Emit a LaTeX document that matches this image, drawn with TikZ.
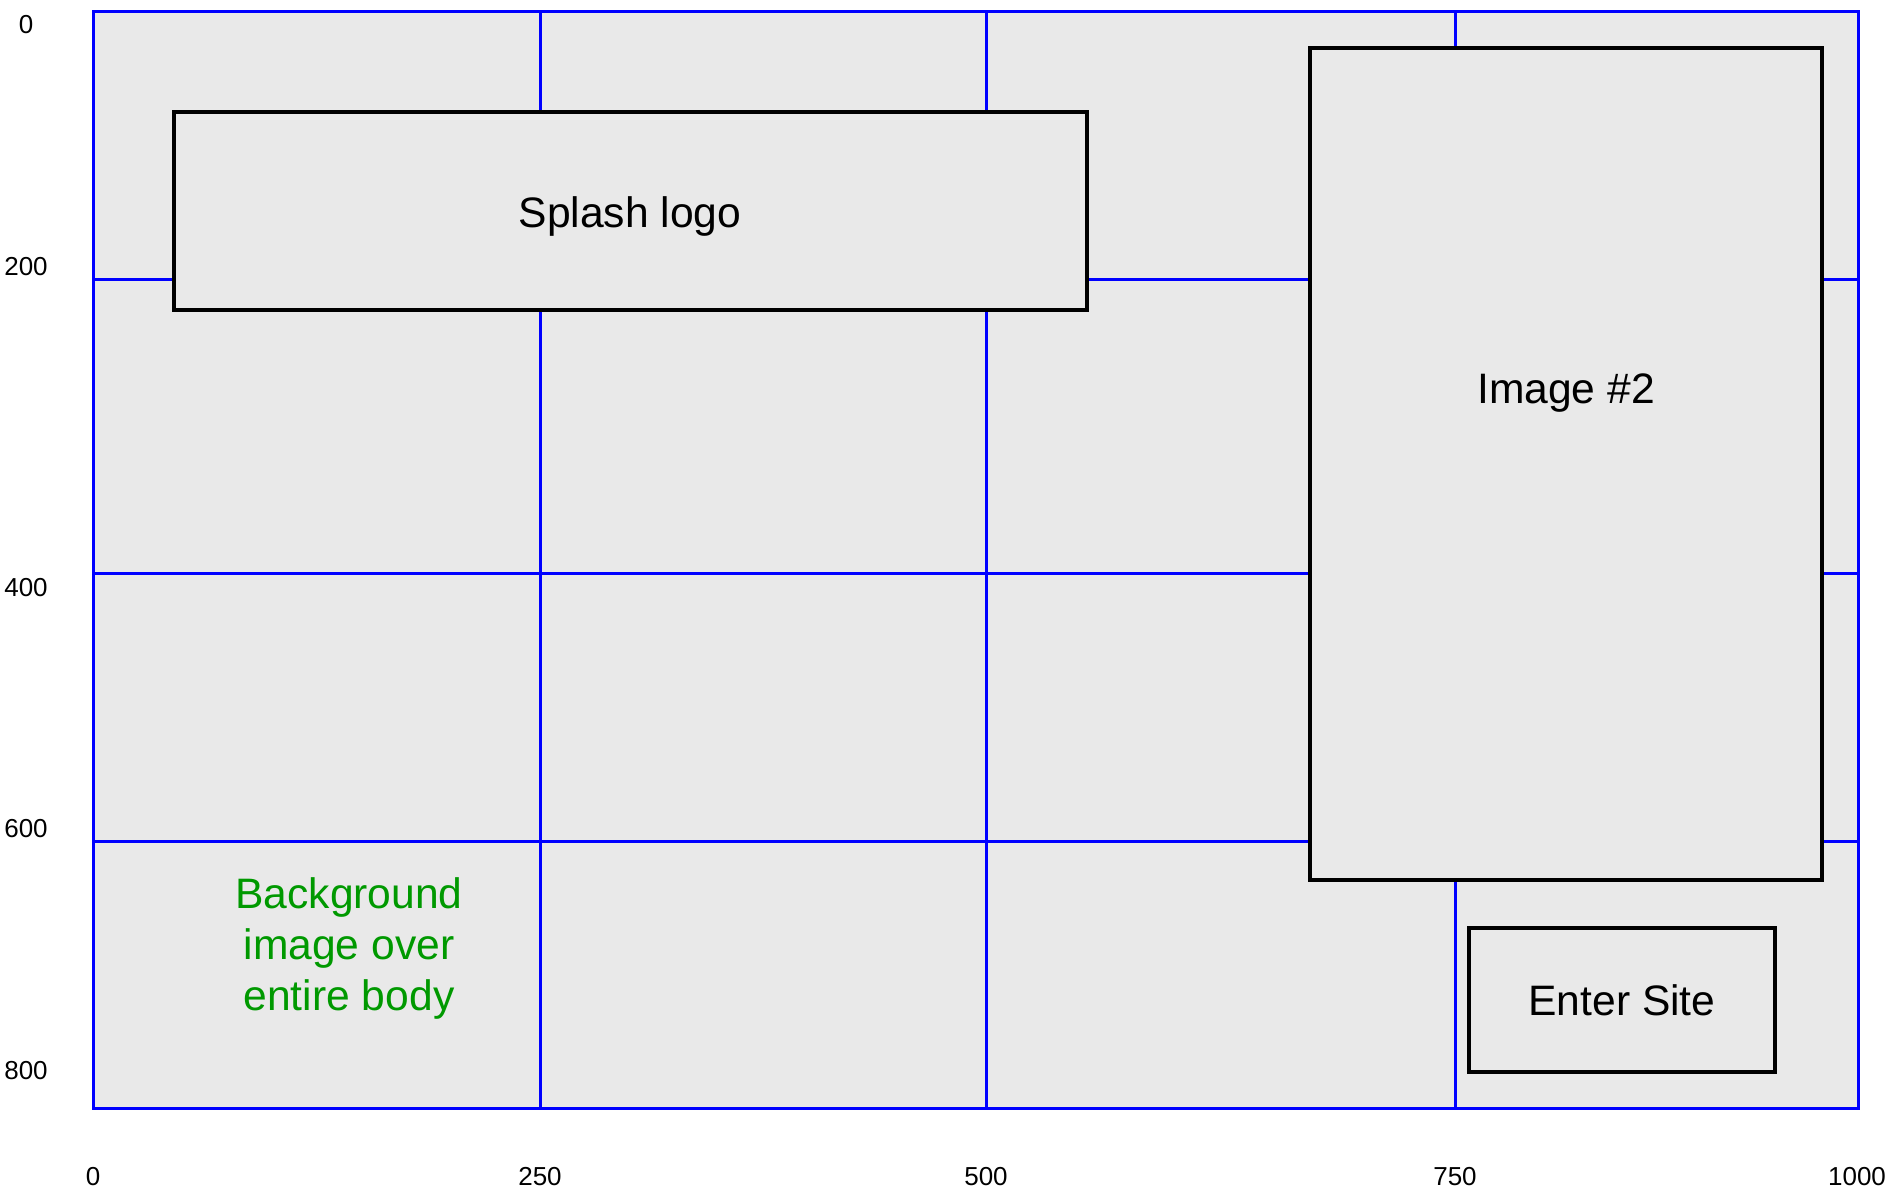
\documentclass[tikz,border=0pt]{standalone}
\usepackage{fontspec}
\setmainfont{Liberation Sans}
\begin{document}
\begin{tikzpicture}[x=0.5pt,y=-0.5pt,
  grid/.style={draw={rgb,255:red,0;green,0;blue,255}, line width=1.5pt},
  box/.style={draw=black, fill=bgfill, line width=1.6pt, inner sep=0pt},
  big/.style={font=\fontsize{21.3}{26}\selectfont},
  axis/.style={font=\fontsize{13}{15}\selectfont, inner sep=0pt},
  note/.style={font=\fontsize{21.3}{25.5}\selectfont, text=notegreen, align=center}]
\definecolor{bgfill}{HTML}{E9E9E9}
\definecolor{notegreen}{HTML}{009900}
\useasboundingbox (0,0) rectangle (1893,1196);
\fill[white] (0,0) rectangle (1893,1196);
% body area
\fill[bgfill] (93,11) rectangle (1858,1108);
\draw[grid] (540,11) -- (540,1108);
\draw[grid] (986,11) -- (986,1108);
\draw[grid] (1455,11) -- (1455,1108);
\draw[grid] (93,279) -- (1858,279);
\draw[grid] (93,573) -- (1858,573);
\draw[grid] (93,841) -- (1858,841);
\draw[grid] (93,11) rectangle (1858,1108);
% boxes
\node[box, minimum width=456.5pt, minimum height=99pt] (splash) at (630.5,211) {};
\node[big, anchor=base] (splashtext) at (630,227.5) {Splash logo};
\node[box, minimum width=256pt, minimum height=416pt] (img2) at (1566,464) {};
\node[big, anchor=base] (img2text) at (1566,403.5) {Image \#2};
\node[box, minimum width=153pt, minimum height=72pt] (enter) at (1622,1000) {};
\node[big, anchor=base] (entertext) at (1622,1015.5) {Enter Site};
\node[note] (bgnote) at (349,948) {Background\\image over\\entire body};
% axis labels
\node[axis] (y0) at (26,25) {0};
\node[axis] (y200) at (26,267) {200};
\node[axis] (y400) at (26,588) {400};
\node[axis] (y600) at (26,829) {600};
\node[axis] (y800) at (26,1071) {800};
\node[axis] (x0) at (93,1177) {0};
\node[axis] (x250) at (540,1177) {250};
\node[axis] (x500) at (986,1177) {500};
\node[axis] (x750) at (1455,1177) {750};
\node[axis] (x1000) at (1857,1177) {1000};
\end{tikzpicture}
\end{document}
